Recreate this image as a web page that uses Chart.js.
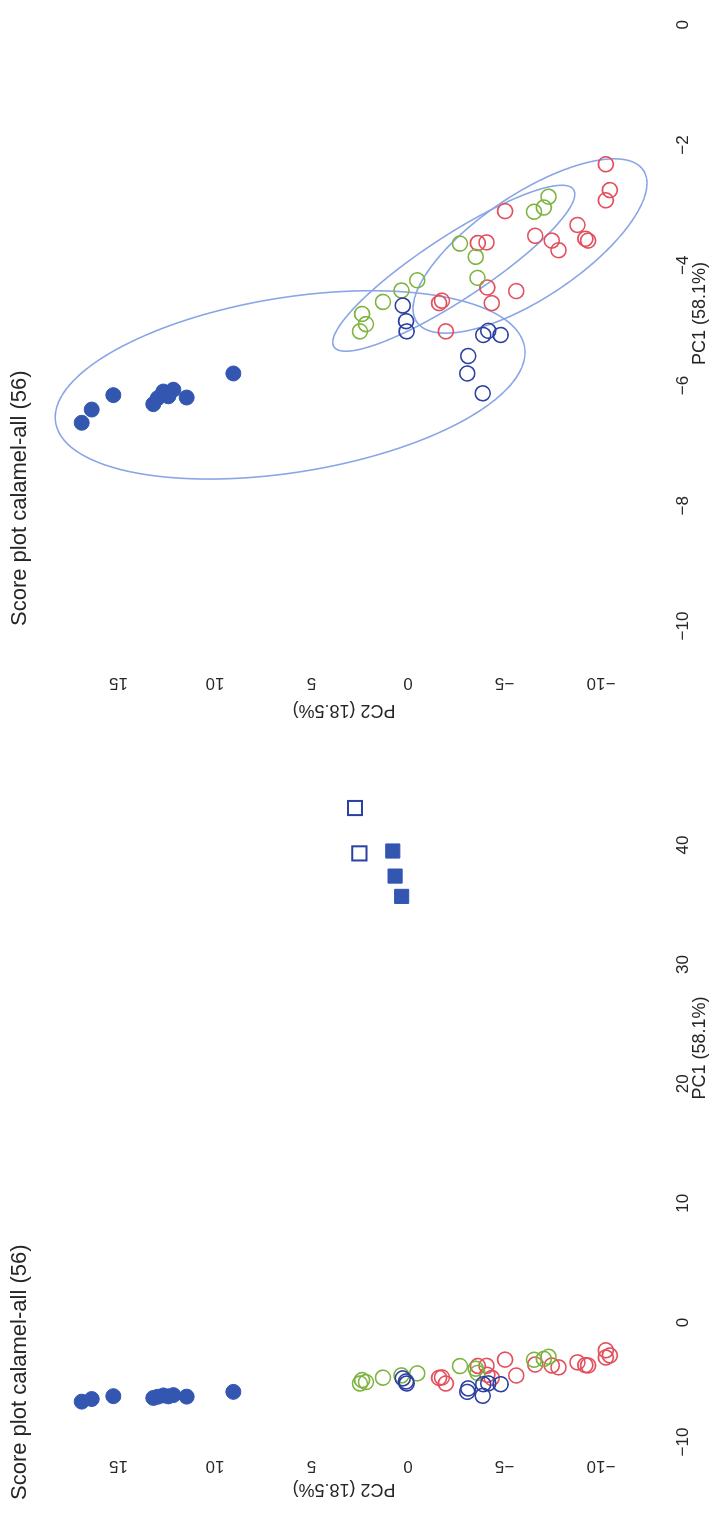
<!DOCTYPE html>
<html>
<head>
<meta charset="utf-8">
<title>Score plot calamel-all (56)</title>
<script src="https://cdn.jsdelivr.net/npm/chart.js@4.4.1/dist/chart.umd.min.js"></script>
<style>
  html, body { margin: 0; padding: 0; background: #ffffff; overflow: hidden; }
  body { width: 713px; height: 1533px; position: relative; }
  /* the two panels are laid out landscape, then the sheet is turned a quarter to the left */
  #sheet {
    position: absolute; left: 0; top: 0;
    width: 1533px; height: 713px;
    transform-origin: 0 0;
    transform: translate(0, 1533px) rotate(-90deg);
    overflow: hidden; background: #ffffff;
  }
  #panelAll  { position: absolute; left: 0;     top: 0; }
  #panelZoom { position: absolute; left: 800px; top: 0; }
</style>
</head>
<body>
<div id="sheet">
  <canvas id="panelAll" width="891" height="713"></canvas>
  <canvas id="panelZoom" width="741" height="713"></canvas>
</div>
<script>
// ---- tick values ----
const pc1TicksAll  = [-10, 0, 10, 20, 30, 40];
const pc1TicksZoom = [-10, -8, -6, -4, -2, 0];
const pc2Ticks     = [-10, -5, 0, 5, 10, 15];

// ---- scores: filled blue circles ----
const filledBluePC1 = [-6.62, -6.40, -6.16, -6.31, -6.21, -6.10, -6.07, -6.18, -6.20, -5.80];
const filledBluePC2 = [16.91, 16.39, 15.27, 13.20, 12.97, 12.68, 12.16, 12.42, 11.47, 9.05];

// ---- scores: open blue circles ----
const openBluePC1 = [-4.67, -4.93, -5.10, -5.16, -5.09, -5.16, -5.51, -5.80, -6.13];
const openBluePC2 = [0.27, 0.10, 0.07, -3.90, -4.16, -4.80, -3.12, -3.07, -3.87];

// ---- scores: open green circles ----
const greenPC1 = [-4.81, -4.98, -5.10, -4.61, -4.42, -4.25, -3.64, -3.86, -4.21, -3.11, -3.04, -2.86];
const greenPC2 = [2.38, 2.18, 2.49, 1.30, 0.34, -0.48, -2.69, -3.51, -3.60, -6.53, -7.04, -7.28];

// ---- scores: open red circles ----
const redPC1 = [-2.32, -2.75, -2.92, -3.33, -3.56, -3.59, -3.51, -3.59, -3.75,
                -3.10, -3.63, -3.62, -4.37, -4.43, -4.63, -4.63, -4.59, -5.10];
const redPC2 = [-10.25, -10.46, -10.25, -8.78, -9.19, -9.33, -6.59, -7.45, -7.80,
                -5.03, -3.62, -4.07, -4.11, -5.61, -4.34, -1.61, -1.76, -1.96];

// ---- scores: squares (far right on PC1) ----
const filledSquarePC1 = [39.5, 37.4, 35.7];
const filledSquarePC2 = [0.79, 0.67, 0.33];
const openSquarePC1 = [43.1, 39.3];
const openSquarePC2 = [2.75, 2.52];

// ---- group ellipses: centre, spread along each PC, correlation ----
const ellipseCentrePC1 = [-5.99, -4.05, -3.68];
const ellipseCentrePC2 = [6.11, -2.37, -6.32];
const ellipseSpreadPC1 = [1.566, 1.38, 1.45];
const ellipseSpreadPC2 = [12.17, 6.27, 6.06];
const ellipseCorr      = [-0.345, -0.892, -0.72];

// ---- styling ----
const FONT = '"Liberation Sans", Arial, Helvetica, sans-serif';
const INK = '#262626';
const C_FILLED_BLUE = '#3356b1';
const C_OPEN_BLUE = '#2b40a0';
const C_GREEN = '#7db43f';
const C_RED = '#e2505e';
const C_ELLIPSE = '#8aa6e6';

Chart.defaults.font.family = FONT;
Chart.defaults.color = INK;

const pts = (xs, ys) => xs.map((v, i) => ({ x: v, y: ys[i] }));
const minusFmt = v => (v < 0 ? '\u2212' + Math.abs(v) : String(v));
const fixTicks = list => scale => { scale.ticks = list.map(v => ({ value: v })); };
// keep the plot area exactly where the layout puts it (no extra room for edge labels)
const noEdgePadding = s => { s.paddingLeft = 0; s.paddingRight = 0; s.paddingTop = 0; s.paddingBottom = 0; };

function circleSet(label, xs, ys, color, filled) {
  return {
    label, data: pts(xs, ys), clip: false,
    pointStyle: 'circle', pointRadius: 7.5, pointHoverRadius: 7.5,
    backgroundColor: filled ? color : 'rgba(0,0,0,0)',
    borderColor: color, borderWidth: filled ? 1 : 1.6
  };
}
function squareSet(label, xs, ys, color, filled) {
  return {
    label, data: pts(xs, ys), clip: false,
    pointStyle: 'rect', pointRadius: 10, pointHoverRadius: 10,
    backgroundColor: filled ? color : 'rgba(0,0,0,0)',
    borderColor: color, borderWidth: filled ? 1 : 2
  };
}

// draws each group's ellipse through the chart's own scales
const ellipsePlugin = {
  id: 'groupEllipses',
  beforeDatasetsDraw(chart) {
    const { ctx, scales: { x, y } } = chart;
    ctx.save();
    ctx.strokeStyle = C_ELLIPSE;
    ctx.lineWidth = 1.6;
    for (let i = 0; i < ellipseCentrePC1.length; i++) {
      const cx = ellipseCentrePC1[i], cy = ellipseCentrePC2[i];
      const sx = ellipseSpreadPC1[i], sy = ellipseSpreadPC2[i], r = ellipseCorr[i];
      const q = Math.sqrt(1 - r * r);
      ctx.beginPath();
      for (let k = 0; k <= 240; k++) {
        const t = (k / 240) * Math.PI * 2;
        const u = Math.cos(t), w = Math.sin(t);
        const px = x.getPixelForValue(cx + sx * u);
        const py = y.getPixelForValue(cy + sy * (r * u + q * w));
        if (k === 0) ctx.moveTo(px, py); else ctx.lineTo(px, py);
      }
      ctx.closePath();
      ctx.stroke();
    }
    ctx.restore();
  }
};

function scoreOptions(p) {
  return {
    responsive: false,
    animation: false,
    events: [],
    layout: { padding: { left: p.padLeft, right: 0, top: 0, bottom: 0 } },
    plugins: {
      legend: { display: false },
      tooltip: { enabled: false },
      title: {
        display: true,
        text: 'Score plot calamel-all (56)',
        align: 'start',
        fullSize: p.titleFull,
        color: INK,
        font: { size: 22, weight: 'normal' },
        padding: { top: 6.8, bottom: 39.8 }
      }
    },
    scales: {
      x: {
        type: 'linear', bounds: 'data', min: p.xMin, max: p.xMax,
        afterBuildTicks: fixTicks(p.xTicks),
        afterFit: s => { s.height = 98; noEdgePadding(s); },
        grid: { display: false, drawTicks: false },
        border: { display: false },
        ticks: {
          font: { size: 17 }, color: INK, padding: 58,
          autoSkip: false, minRotation: 0, maxRotation: 0,
          callback: minusFmt
        },
        title: {
          display: true, text: 'PC1 (58.1%)', color: INK,
          font: { size: 18 }, padding: { top: 0, bottom: 2 }
        }
      },
      y: {
        type: 'linear', bounds: 'data', min: -10.725, max: 17.36,
        afterBuildTicks: fixTicks(pc2Ticks),
        afterFit: s => { s.width = p.yWidth; noEdgePadding(s); },
        grid: { display: false, drawTicks: false },
        border: { display: false },
        ticks: {
          font: { size: 17 }, color: INK, padding: p.yTickPad,
          crossAlign: 'center', minRotation: 90, maxRotation: 90,
          autoSkip: false, callback: minusFmt
        },
        title: {
          display: true, text: 'PC2 (18.5%)', color: INK,
          font: { size: 18 }, padding: { top: p.yTitlePad, bottom: 0 }
        }
      }
    }
  };
}

// left panel: every sample, PC1 from -10 to 40
new Chart(document.getElementById('panelAll'), {
  type: 'scatter',
  data: {
    datasets: [
      circleSet('filled blue', filledBluePC1, filledBluePC2, C_FILLED_BLUE, true),
      circleSet('open blue', openBluePC1, openBluePC2, C_OPEN_BLUE, false),
      circleSet('green', greenPC1, greenPC2, C_GREEN, false),
      circleSet('red', redPC1, redPC2, C_RED, false),
      squareSet('filled squares', filledSquarePC1, filledSquarePC2, C_FILLED_BLUE, true),
      squareSet('open squares', openSquarePC1, openSquarePC2, C_OPEN_BLUE, false)
    ]
  },
  options: scoreOptions({
    xMin: -10, xMax: 56.0, xTicks: pc1TicksAll,
    padLeft: 33, titleFull: true, yWidth: 58, yTickPad: 9.6, yTitlePad: 0
  })
});

// right panel: close-up of PC1 -10 to 0 with group ellipses
new Chart(document.getElementById('panelZoom'), {
  type: 'scatter',
  data: {
    datasets: [
      circleSet('filled blue', filledBluePC1, filledBluePC2, C_FILLED_BLUE, true),
      circleSet('open blue', openBluePC1, openBluePC2, C_OPEN_BLUE, false),
      circleSet('green', greenPC1, greenPC2, C_GREEN, false),
      circleSet('red', redPC1, redPC2, C_RED, false)
    ]
  },
  options: scoreOptions({
    xMin: -10, xMax: 0.393, xTicks: pc1TicksZoom,
    padLeft: 0, titleFull: false, yWidth: 107, yTickPad: 42.6, yTitlePad: 12.2
  }),
  plugins: [ellipsePlugin]
});
</script>
</body>
</html>
